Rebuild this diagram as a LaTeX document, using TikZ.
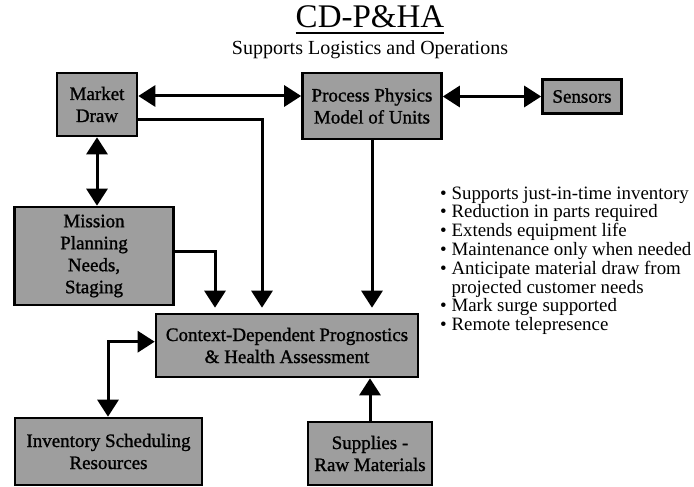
\documentclass[tikz,border=0pt]{standalone}
\usepackage{fontspec}
\setmainfont{Liberation Serif}
\newfontfamily\boxfont[FakeBold=1.2]{Liberation Serif}
\usetikzlibrary{arrows.meta,calc}
\definecolor{boxgray}{HTML}{9E9E9E}
\begin{document}
\begin{tikzpicture}[x=1pt,y=-1pt,
  box/.style={draw=black, line width=2.6pt, fill=boxgray, inner sep=0pt,
    align=center, font=\boxfont\fontsize{19}{22}\selectfont, anchor=center},
  conn/.style={line width=3pt, -{Triangle[width=21pt,length=17pt]}},
  dconn/.style={line width=3pt, {Triangle[width=21pt,length=17pt]}-{Triangle[width=21pt,length=17pt]}},
  gap/.style={shorten >=5pt},
  item/.style={anchor=base west, inner sep=0pt, font=\fontsize{18.9}{20}\selectfont}
]
\useasboundingbox (0,0) rectangle (694,487);

% title
\node[anchor=base, inner sep=0pt, font=\fontsize{33}{36}\selectfont] (title) at (370,28) {CD-P\&HA};
\draw[line width=1.6pt] ($(title.base west)+(0,5)$) -- ($(title.base east)+(0,5)$);
\node[anchor=base, inner sep=0pt, font=\fontsize{20}{24}\selectfont] (sub) at (370,55) {Supports Logistics and Operations};

% boxes
\node[box, minimum width=80pt, minimum height=63pt] (market) at (97,104.5) {Market\\Draw};
\node[box, minimum width=139pt, minimum height=66pt] (process) at (372,106) {Process Physics\\Model of Units};
\node[box, minimum width=79pt, minimum height=34pt] (sensors) at (582,96.5) {Sensors};
\node[box, minimum width=159pt, minimum height=98pt] (mission) at (94,256) {Mission\\Planning\\Needs,\\Staging};
\node[box, minimum width=262pt, minimum height=63pt] (context) at (287,345.5) {Context-Dependent Prognostics\\\& Health Assessment};
\node[box, minimum width=187pt, minimum height=67pt] (inventory) at (108.5,451.5) {Inventory Scheduling\\Resources};
\node[box, minimum width=124pt, minimum height=63pt] (supplies) at (370,453.5) {Supplies -\\Raw Materials};

% bend points
\coordinate (r1) at (0,96);
\coordinate (mc) at (262,119.3);
\coordinate (mcx) at (215,251.7);
\coordinate (ic) at (108,341.7);

% connectors
\draw[dconn] (market.east|-r1) -- (process.west|-r1);
\draw[dconn] (process.east|-sensors.west) -- (sensors.west);
\draw[dconn] (market.south) -- (market.south|-mission.north);
\draw[conn, gap] (market.east|-mc) -- (mc) -- (mc|-context.north);
\draw[conn, gap] (process.south) -- (process.south|-context.north);
\draw[conn, gap] (mission.east|-mcx) -- (mcx) -- (mcx|-context.north);
\draw[dconn] (context.west|-ic) -- (ic) -- (ic|-inventory.north);
\draw[conn] (supplies.north) -- (supplies.north|-context.south);

% bullet list
\node[item] (l1) at (440,199)   {\textbullet\ Supports just-in-time inventory};
\node[item] (l2) at (440,217.8) {\textbullet\ Reduction in parts required};
\node[item] (l3) at (440,236.6) {\textbullet\ Extends equipment life};
\node[item] (l4) at (440,255.4) {\textbullet\ Maintenance only when needed};
\node[item] (l5) at (440,274.2) {\textbullet\ Anticipate material draw from};
\node[item] (l6) at (440,293)   {\hphantom{\textbullet\ }projected customer needs};
\node[item] (l7) at (440,311.8) {\textbullet\ Mark surge supported};
\node[item] (l8) at (440,330.6) {\textbullet\ Remote telepresence};
\end{tikzpicture}
\end{document}
